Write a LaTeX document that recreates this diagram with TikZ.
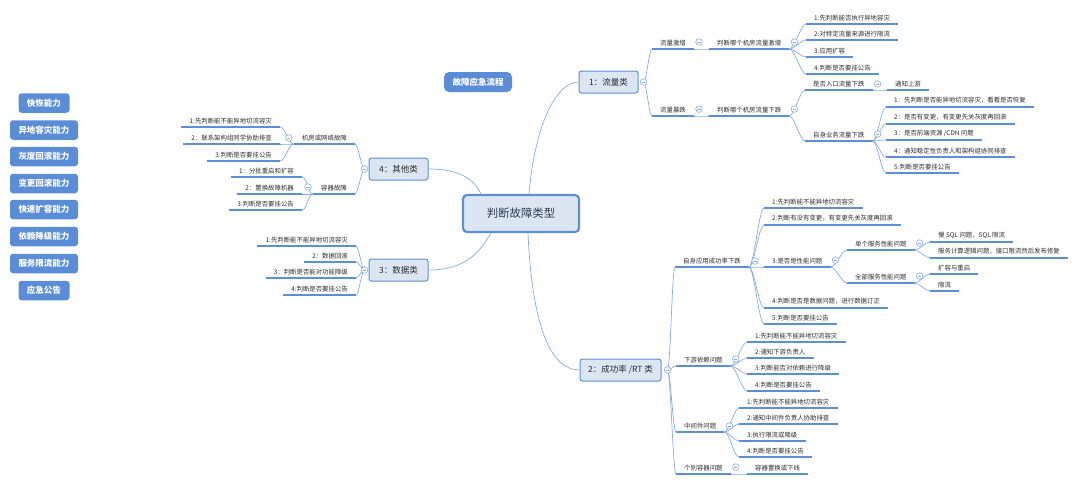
\documentclass[tikz,border=0pt]{standalone}
\usepackage{fontspec}
\setmainfont{Noto Sans CJK SC}
\usepackage{xcolor}
\usepackage{tikz}
\usetikzlibrary{positioning}
\definecolor{btnblue}{HTML}{5A8DD6}
\definecolor{boxfill}{HTML}{DCE6F2}
\definecolor{boxline}{HTML}{5F8FD3}
\definecolor{ulblue}{HTML}{5B8FD8}
\definecolor{wireblue}{HTML}{86ACE4}
\definecolor{txtgray}{HTML}{2B2B2B}
\definecolor{roottxt}{HTML}{2E3C52}
\tikzset{
  btn/.style={rounded corners=3pt,fill=btnblue,text=white,font=\bfseries\fontsize{8.5}{10}\selectfont,
    minimum height=19.5pt,inner xsep=8.5pt,inner ysep=0pt},
  topic/.style={rounded corners=2.5pt,draw=boxline,line width=1pt,fill=boxfill,text=txtgray,
    font=\fontsize{8.5}{10}\selectfont,minimum height=22pt,inner sep=0pt},
  uline/.style={draw=ulblue,line width=1.4pt},
  leaf/.style={inner xsep=8pt,inner ysep=3.2pt,text=txtgray,font=\fontsize{6.4}{7.5}\selectfont,
    append after command={(\tikzlastnode.south west) edge[uline] (\tikzlastnode.south east)}},
  wire/.style={draw=wireblue,line width=0.7pt},
  fold/.style={circle,draw=wireblue,line width=0.6pt,fill=white,minimum size=6.6pt,inner sep=0pt,
    path picture={\draw[wireblue,line width=0.6pt] ([xshift=-1.6pt]path picture bounding box.center) -- ([xshift=1.6pt]path picture bounding box.center);}},
  toright/.style={to path={.. controls +(#1,0) and +(-#1,0) .. (\tikztotarget)}},
  toright/.default=5,
  toleft/.style={to path={.. controls +(-#1,0) and +(#1,0) .. (\tikztotarget)}},
  toleft/.default=5
}

\begin{document}
\begin{tikzpicture}[x=1pt,y=-1pt]
    \useasboundingbox (0,0) rectangle (1080,485);

    % capability list
    \node[btn] (cap1) at (44,103) {快恢能力};
    \node[btn] (cap2) at (44,130) {异地容灾能力};
    \node[btn] (cap3) at (44,156.5) {灰度回滚能力};
    \node[btn] (cap4) at (44,183.5) {变更回滚能力};
    \node[btn] (cap5) at (44,209.5) {快速扩容能力};
    \node[btn] (cap6) at (44,236.5) {依赖降级能力};
    \node[btn] (cap7) at (44,263.5) {服务限流能力};
    \node[btn] (cap8) at (44,290.5) {应急公告};
    \node[btn,rounded corners=5pt,minimum width=68pt,minimum height=20pt] (flow) at (478,82) {故障应急流程};

    % centre and main topics
    \node[topic,line width=2.2pt,rounded corners=4pt,minimum width=116pt,minimum height=37pt,
          text=roottxt,font=\fontsize{11.4}{13}\selectfont] (root) at (521,213.5) {判断故障类型};
    \node[topic,minimum width=59pt] (t1) at (608.5,82) {1：流量类};
    \node[topic,minimum width=81pt] (t2) at (620.5,370) {2：成功率 /RT 类};
    \node[topic,minimum width=59pt] (t3) at (398.5,270) {3：数据类};
    \node[topic,minimum width=59pt] (t4) at (398.5,169) {4：其他类};

    \draw [wire] ([xshift=8pt]root.north) .. controls +(6,-70) and +(-22,0) .. (t1.west);
    \draw [wire] ([xshift=7pt]root.south) .. controls +(4,90) and +(-30,0) .. (t2.west);
    \draw [wire] (t3.east) .. controls +(40,0) and +(-10,16) .. ([xshift=-30pt]root.south);
    \draw [wire] (t4.east) .. controls +(35,0) and +(-6,-12) .. ([xshift=-40pt]root.north);

    % 1: traffic
    \node[leaf,anchor=south west] (a1) at (652,49) {流量激增};
    \node[leaf,anchor=south west] (a2) at (709,49) {判断哪个机房流量激增};
    \node[leaf,anchor=south west] (a21) at (806,24) {1:先判断能否执行异地容灾};
    \node[leaf,anchor=south west] (a22) at (806,40) {2:对特定流量来源进行限流};
    \node[leaf,anchor=south west] (a23) at (806,57) {3:应用扩容};
    \node[leaf,anchor=south west] (a24) at (806,74) {4:判断是否要挂公告};
    \node[leaf,anchor=south west] (b1) at (652,116) {流量暴跌};
    \node[leaf,anchor=south west] (b2) at (709,116) {判断哪个机房流量下跌};
    \node[leaf,anchor=south west] (b3) at (805,90) {是否入口流量下跌};
    \node[leaf,anchor=south west] (b31) at (887,90) {通知上游};
    \node[leaf,anchor=south west] (b4) at (805,141) {自身业务流量下跌};
    \node[leaf,anchor=south west] (b41) at (886,107) {1：先判断是否能异地切流容灾，看看是否恢复};
    \node[leaf,anchor=south west] (b42) at (886,124) {2：是否有变更，有变更先关灰度再回滚};
    \node[leaf,anchor=south west] (b43) at (886,140) {3：是否前端资源 /CDN 问题};
    \node[leaf,anchor=south west] (b44) at (886,157) {4：通知稳定性负责人和架构组协同排查};
    \node[leaf,anchor=south west] (b45) at (886,173) {5:判断是否要挂公告};

    \coordinate (f1) at ([xshift=5pt]t1.east);
    \draw [wire] (f1) to [toright=3] (a1.south west);
    \draw [wire] (f1) to [toright=3] (b1.south west);
    \draw [wire] (a1.south east) to [toright] (a2.south west);
    \draw [wire] (a2.south east) to [toright] (a21.south west);
    \draw [wire] (a2.south east) to [toright] (a22.south west);
    \draw [wire] (a2.south east) to [toright] (a23.south west);
    \draw [wire] (a2.south east) to [toright] (a24.south west);
    \draw [wire] (b1.south east) to [toright] (b2.south west);
    \draw [wire] (b2.south east) to [toright] (b3.south west);
    \draw [wire] (b2.south east) to [toright] (b4.south west);
    \draw [wire] (b3.south east) to [toright] (b31.south west);
    \draw [wire] (b4.south east) to [toright] (b41.south west);
    \draw [wire] (b4.south east) to [toright] (b42.south west);
    \draw [wire] (b4.south east) to [toright] (b43.south west);
    \draw [wire] (b4.south east) to [toright] (b44.south west);
    \draw [wire] (b4.south east) to [toright] (b45.south west);

    % 2: success rate / RT
    \node[leaf,anchor=south west] (c1) at (675,267) {自身应用成功率下跌};
    \node[leaf,anchor=south west] (c11) at (764,208) {1:先判断能不能异地切流容灾};
    \node[leaf,anchor=south west] (c12) at (764,225) {2:判断有没有变更，有变更先关灰度再回滚};
    \node[leaf,anchor=south west] (c13) at (764,267) {3:是否是性能问题};
    \node[leaf,anchor=south west] (c131) at (847,250) {单个服务性能问题};
    \node[leaf,anchor=south west] (c1311) at (930,242) {慢 SQL 问题，SQL 限流};
    \node[leaf,anchor=south west] (c1312) at (930,258) {服务计算逻辑问题，接口限流然后发布修复};
    \node[leaf,anchor=south west] (c132) at (847,283) {全部服务性能问题};
    \node[leaf,anchor=south west] (c1321) at (930,274) {扩容与重启};
    \node[leaf,anchor=south west] (c1322) at (930,291) {限流};
    \node[leaf,anchor=south west] (c14) at (764,308) {4:判断是否是数据问题，进行数据订正};
    \node[leaf,anchor=south west] (c15) at (764,324) {5:判断是否要挂公告};
    \node[leaf,anchor=south west] (c2) at (676,366) {下游依赖问题};
    \node[leaf,anchor=south west] (c21) at (747,342) {1:先判断能不能异地切流容灾};
    \node[leaf,anchor=south west] (c22) at (747,358) {2:通知下游负责人};
    \node[leaf,anchor=south west] (c23) at (747,374) {3:判断能否对依赖进行降级};
    \node[leaf,anchor=south west] (c24) at (747,391) {4:判断是否要挂公告};
    \node[leaf,anchor=south west] (c3) at (676,432) {中间件问题};
    \node[leaf,anchor=south west] (c31) at (739,408) {1:先判断能不能异地切流容灾};
    \node[leaf,anchor=south west] (c32) at (739,424) {2:通知中间件负责人协助排查};
    \node[leaf,anchor=south west] (c33) at (739,441) {3:执行限流或降级};
    \node[leaf,anchor=south west] (c34) at (739,457) {4:判断是否要挂公告};
    \node[leaf,anchor=south west] (c4) at (676,474) {个别容器问题};
    \node[leaf,anchor=south west] (c41) at (747,474) {容器置换或下线};

    \coordinate (f2) at ([xshift=6pt]t2.east);
    \draw [wire] (f2) to [toright=3] (c1.south west);
    \draw [wire] (f2) to [toright=3] (c2.south west);
    \draw [wire] (f2) to [toright=3] (c3.south west);
    \draw [wire] (f2) to [toright=3] (c4.south west);
    \draw [wire] (c1.south east) to [toright] (c11.south west);
    \draw [wire] (c1.south east) to [toright] (c12.south west);
    \draw [wire] (c1.south east) to [toright] (c13.south west);
    \draw [wire] (c1.south east) to [toright] (c14.south west);
    \draw [wire] (c1.south east) to [toright] (c15.south west);
    \draw [wire] (c13.south east) to [toright] (c131.south west);
    \draw [wire] (c13.south east) to [toright] (c132.south west);
    \draw [wire] (c131.south east) to [toright] (c1311.south west);
    \draw [wire] (c131.south east) to [toright] (c1312.south west);
    \draw [wire] (c132.south east) to [toright] (c1321.south west);
    \draw [wire] (c132.south east) to [toright] (c1322.south west);
    \draw [wire] (c2.south east) to [toright] (c21.south west);
    \draw [wire] (c2.south east) to [toright] (c22.south west);
    \draw [wire] (c2.south east) to [toright] (c23.south west);
    \draw [wire] (c2.south east) to [toright] (c24.south west);
    \draw [wire] (c3.south east) to [toright] (c31.south west);
    \draw [wire] (c3.south east) to [toright] (c32.south west);
    \draw [wire] (c3.south east) to [toright] (c33.south west);
    \draw [wire] (c3.south east) to [toright] (c34.south west);
    \draw [wire] (c4.south east) to [toright] (c41.south west);

    % 3: data
    \node[leaf,anchor=south east] (d1) at (356,246) {1:先判断能不能异地切流容灾};
    \node[leaf,anchor=south east] (d2) at (356,262) {2：数据回滚};
    \node[leaf,anchor=south east] (d3) at (356,278) {3：判断是否能对功能降级};
    \node[leaf,anchor=south east] (d4) at (356,295) {4:判断是否要挂公告};

    \coordinate (f3) at ([xshift=-4pt]t3.west);
    \draw [wire] (f3) to [toleft=3] (d1.south east);
    \draw [wire] (f3) to [toleft=3] (d2.south east);
    \draw [wire] (f3) to [toleft=3] (d3.south east);
    \draw [wire] (f3) to [toleft=3] (d4.south east);

    % 4: others
    \node[leaf,anchor=south east] (e1) at (355,144) {机房或网络故障};
    \node[leaf,anchor=south east] (e11) at (280,127) {1:先判断能不能异地切流容灾};
    \node[leaf,anchor=south east] (e12) at (280,144) {2：联系架构组同学协助排查};
    \node[leaf,anchor=south east] (e13) at (280,161) {3:判断是否要挂公告};
    \node[leaf,anchor=south east] (e2) at (355,194) {容器故障};
    \node[leaf,anchor=south east] (e21) at (302,177) {1：分批重启和扩容};
    \node[leaf,anchor=south east] (e22) at (302,194) {2：置换故障机器};
    \node[leaf,anchor=south east] (e23) at (302,210) {3:判断是否要挂公告};

    \coordinate (f4) at ([xshift=-4pt]t4.west);
    \draw [wire] (f4) to [toleft=3] (e1.south east);
    \draw [wire] (f4) to [toleft=3] (e2.south east);
    \draw [wire] (e1.south west) to [toleft] (e11.south east);
    \draw [wire] (e1.south west) to [toleft] (e12.south east);
    \draw [wire] (e1.south west) to [toleft] (e13.south east);
    \draw [wire] (e2.south west) to [toleft] (e21.south east);
    \draw [wire] (e2.south west) to [toleft] (e22.south east);
    \draw [wire] (e2.south west) to [toleft] (e23.south east);

    % collapse marks
    \node[fold] (o1) at (f1) {};
    \node[fold] (oa1) at ([shift={(5,-7)}]a1.south east) {};
    \node[fold] (oa2) at ([shift={(5,-7)}]a2.south east) {};
    \node[fold] (ob1) at ([shift={(5,-7)}]b1.south east) {};
    \node[fold] (ob2) at ([shift={(5,-7)}]b2.south east) {};
    \node[fold] (ob3) at ([shift={(5,-6)}]b3.south east) {};
    \node[fold] (ob4) at ([shift={(5,-7)}]b4.south east) {};
    \node[fold] (o2) at (f2) {};
    \node[fold] (oc1) at ([shift={(6,-6)}]c1.south east) {};
    \node[fold] (oc13) at ([shift={(5,-7)}]c13.south east) {};
    \node[fold] (oc131) at ([shift={(5,-7)}]c131.south east) {};
    \node[fold] (oc132) at ([shift={(5,-7)}]c132.south east) {};
    \node[fold] (oc2) at ([shift={(5,-7)}]c2.south east) {};
    \node[fold] (oc3) at ([shift={(5,-6)}]c3.south east) {};
    \node[fold] (oc4) at ([shift={(5,-7)}]c4.south east) {};
    \node[fold] (o3) at (f3) {};
    \node[fold] (o4) at (f4) {};
    \node[fold] (oe1) at ([shift={(-5,-6)}]e1.south west) {};
    \node[fold] (oe2) at ([shift={(-5,-7)}]e2.south west) {};
\end{tikzpicture}
\end{document}
